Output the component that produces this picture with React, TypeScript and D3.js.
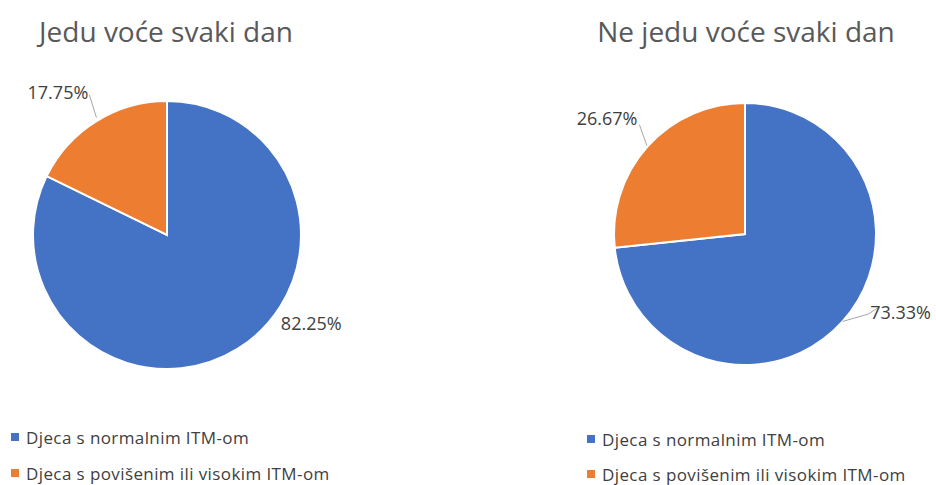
import React, { useEffect, useRef } from 'react'
import * as d3 from 'd3'

// data
const categories = ['Djeca s normalnim ITM-om', 'Djeca s povišenim ili visokim ITM-om']
const titles = ['Jedu voće svaki dan', 'Ne jedu voće svaki dan']
const eatFruit = [82.25, 17.75]
const noFruit = [73.33, 26.67]

const colors = ['#4472C4', '#ED7D31']

// layout for each pie (label angles in degrees, clockwise from 12 o'clock)
const pies = [
  {
    values: eatFruit, title: titles[0], cx: 167, cy: 235, r: 134, titleX: 166, legendX: 11,
    labels: [
      { a: 121.4, d: 169, leader: null },
      { a: -37.3, d: 180, leader: [[-31, 137], [-29, 160]] },
    ],
    legendY: [437, 473],
  },
  {
    values: noFruit, title: titles[1], cx: 745, cy: 234, r: 131, titleX: 746, legendX: 587,
    labels: [
      { a: 116.6, d: 174, leader: [[131.9, 131], [123, 147], [119, 152]] },
      { a: -50, d: 180, leader: [[-48, 132], [-44, 152]] },
    ],
    legendY: [439, 474],
  },
]

function App() {
  const svgRef = useRef(null)

  useEffect(() => {
    const width = 936
    const height = 485
    const svg = d3.select(svgRef.current)
      .attr('width', width)
      .attr('height', height)
      .style('position', 'absolute')
      .style('left', 0)
      .style('top', 0)
      .style('background', '#fff')
      .style('font-family', '"Open Sans", sans-serif')
    svg.selectAll('*').remove()

    const pie = d3.pie<number>().sort(null).value(d => d)
    const rad = (deg: number) => deg * Math.PI / 180
    const polar = (cx: number, cy: number, a: number, d: number) =>
      [cx + d * Math.sin(rad(a)), cy - d * Math.cos(rad(a))]

    pies.forEach(p => {
      const g = svg.append('g')

      g.append('text')
        .attr('x', p.titleX)
        .attr('y', 42)
        .attr('text-anchor', 'middle')
        .style('font-size', '28px')
        .style('fill', '#595959')
        .text(p.title)

      const arc = d3.arc<d3.PieArcDatum<number>>().innerRadius(0).outerRadius(p.r)
      const slices = g.append('g').attr('transform', `translate(${p.cx},${p.cy})`)
      slices.selectAll('path')
        .data(pie(p.values))
        .join('path')
        .attr('d', arc)
        .style('fill', (_d, i) => colors[i])
        .style('stroke', '#fff')
        .style('stroke-width', 2)

      // data labels
      p.values.forEach((v, i) => {
        const lab = p.labels[i]
        const [lx, ly] = polar(p.cx, p.cy, lab.a, lab.d)
        if (lab.leader) {
          const pts = lab.leader.map(q => polar(p.cx, p.cy, q[0], q[1]))
          g.append('path')
            .attr('d', d3.line()(pts as [number, number][]))
            .style('fill', 'none')
            .style('stroke', '#a6a6a6')
            .style('stroke-width', 1)
        }
        g.append('text')
          .attr('x', lx)
          .attr('y', ly)
          .attr('text-anchor', 'middle')
          .attr('dominant-baseline', 'central')
          .style('font-size', '18px')
          .style('fill', '#404040')
          .text(v.toFixed(2) + '%')
      })

      // legend
      categories.forEach((c, i) => {
        g.append('rect')
          .attr('x', p.legendX)
          .attr('y', p.legendY[i] - 4)
          .attr('width', 8)
          .attr('height', 8)
          .style('fill', colors[i])
        g.append('text')
          .attr('x', p.legendX + 15)
          .attr('y', p.legendY[i])
          .attr('dominant-baseline', 'central')
          .style('font-size', '17px')
          .style('letter-spacing', '0.4px')
          .style('fill', '#404040')
          .text(c)
      })
    })
  }, [])

  return <svg ref={svgRef}></svg>
}

export default App
